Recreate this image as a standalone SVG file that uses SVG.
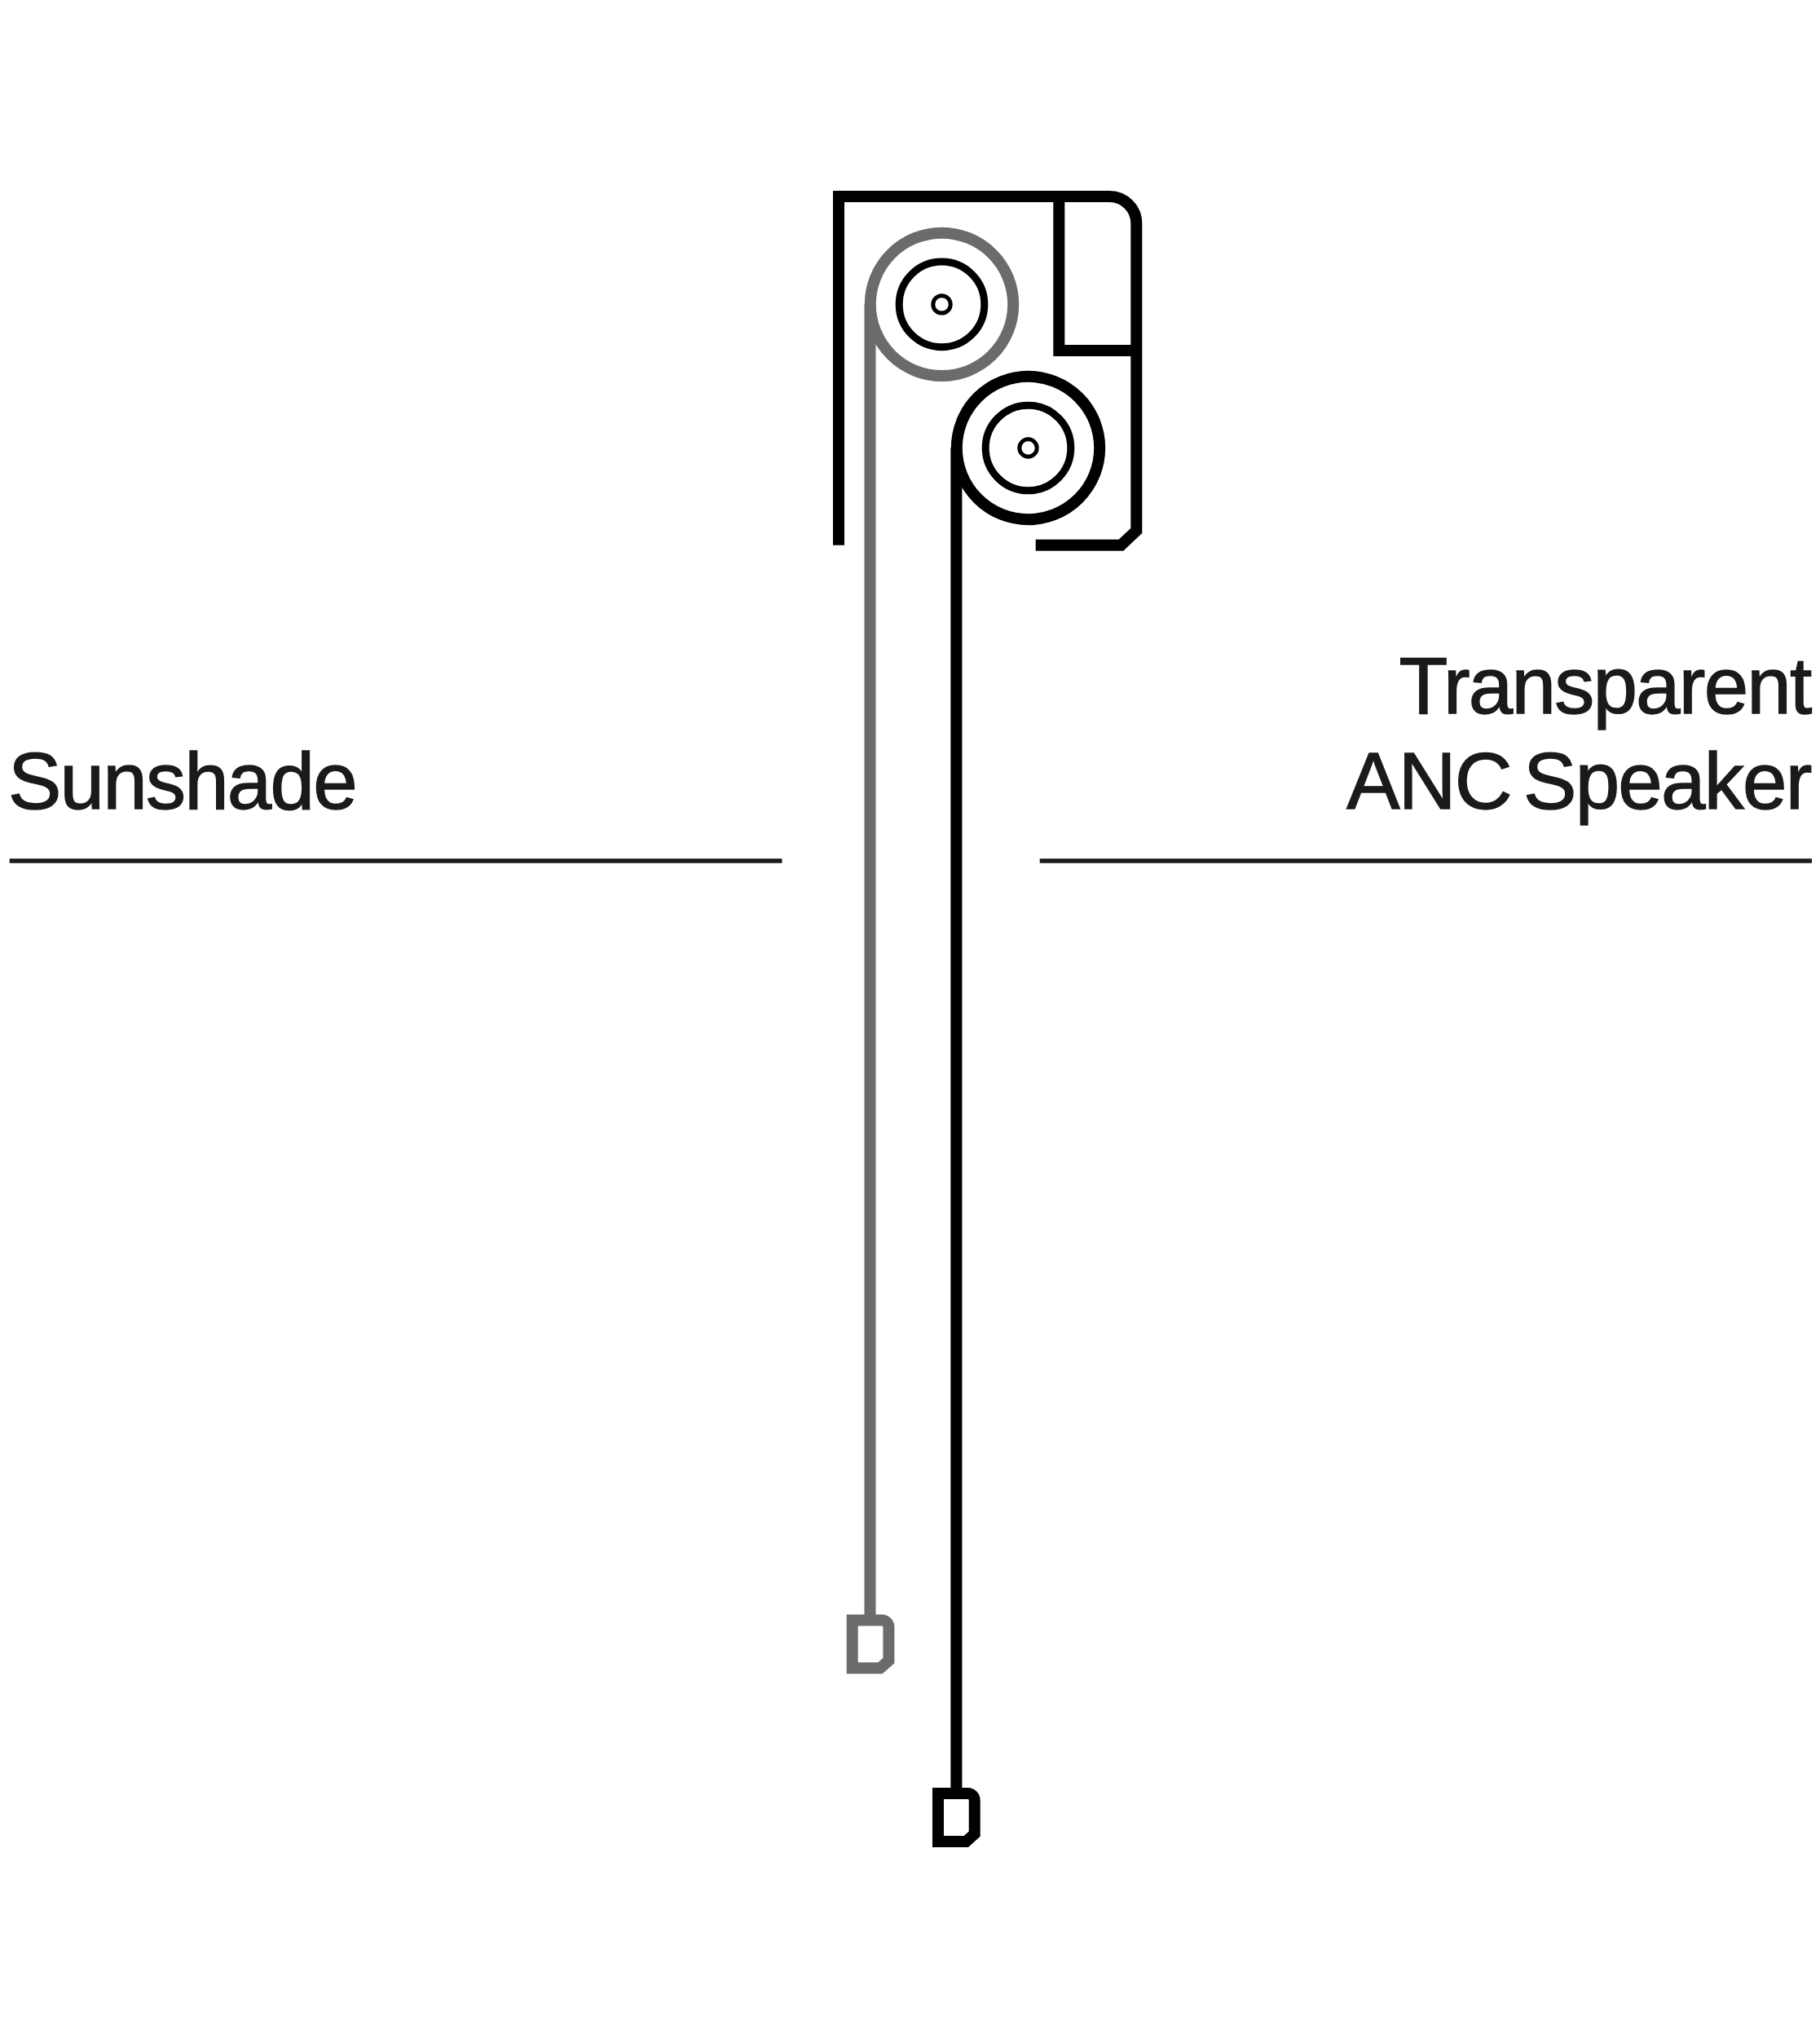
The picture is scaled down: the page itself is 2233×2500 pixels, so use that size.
<svg xmlns="http://www.w3.org/2000/svg" width="2233" height="2500" viewBox="0 0 2233 2500">
<style>
.k{fill:none;stroke:#000;stroke-width:14}
.g{fill:none;stroke:#6b6b6b;stroke-width:14}
.t{fill:none;stroke:#000;stroke-width:9}
.h{fill:none;stroke:#000;stroke-width:5}
.r{fill:none;stroke:#1a1a1a;stroke-width:5.5}
.l{font-family:"Liberation Sans",Arial,sans-serif;font-size:98px;fill:#1a1a1a;stroke:#1a1a1a;stroke-width:1.4px;letter-spacing:-1.8px}
</style>
<rect width="2233" height="2500" fill="#fff"/>
<g id="housing">
<path class="k" d="M1029 668.7V241H1361.5A33 33 0 0 1 1394.3 274V651L1375.5 668.7H1270.7"/>
<path class="k" d="M1299.3 241V430H1394.3"/>
</g>
<g id="sunshade-roller">
<circle class="g" cx="1155.5" cy="373.4" r="87.7"/>
<circle class="t" cx="1155.5" cy="373.4" r="52.3"/>
<circle class="h" cx="1155.5" cy="373.4" r="10.7"/>
</g>
<g id="speaker-roller">
<circle class="k" cx="1261.5" cy="549.5" r="87.7"/>
<circle class="t" cx="1261.5" cy="549.5" r="52.3"/>
<circle class="h" cx="1261.5" cy="549.5" r="10.7"/>
</g>
<g id="connectors">
<path class="g" d="M1067.5 373.4V1987"/>
<path class="k" d="M1173.4 549.5V2200"/>
<path class="r" d="M11.7 1056H959.5"/>
<path class="r" d="M1275.7 1056H2223"/>
</g>
<g id="sunshade-weight">
<path class="g" d="M1045.7 1987.4H1082A8.4 8.4 0 0 1 1090.4 1995.8V2037L1080 2046.3H1045.7Z"/>
</g>
<g id="speaker-weight">
<path class="k" d="M1151 2200H1187.3A8.4 8.4 0 0 1 1195.7 2208.4V2249.7L1185.3 2259H1151Z"/>
</g>
<g id="sunshade-label"><text class="l" x="10" y="991.5">Sunshade</text></g>
<g id="speaker-label">
<text class="l" x="2221.5" y="875" text-anchor="end">Transparent</text>
<text class="l" x="2221.5" y="991.5" text-anchor="end" word-spacing="-10">ANC Speaker</text>
</g>
</svg>
